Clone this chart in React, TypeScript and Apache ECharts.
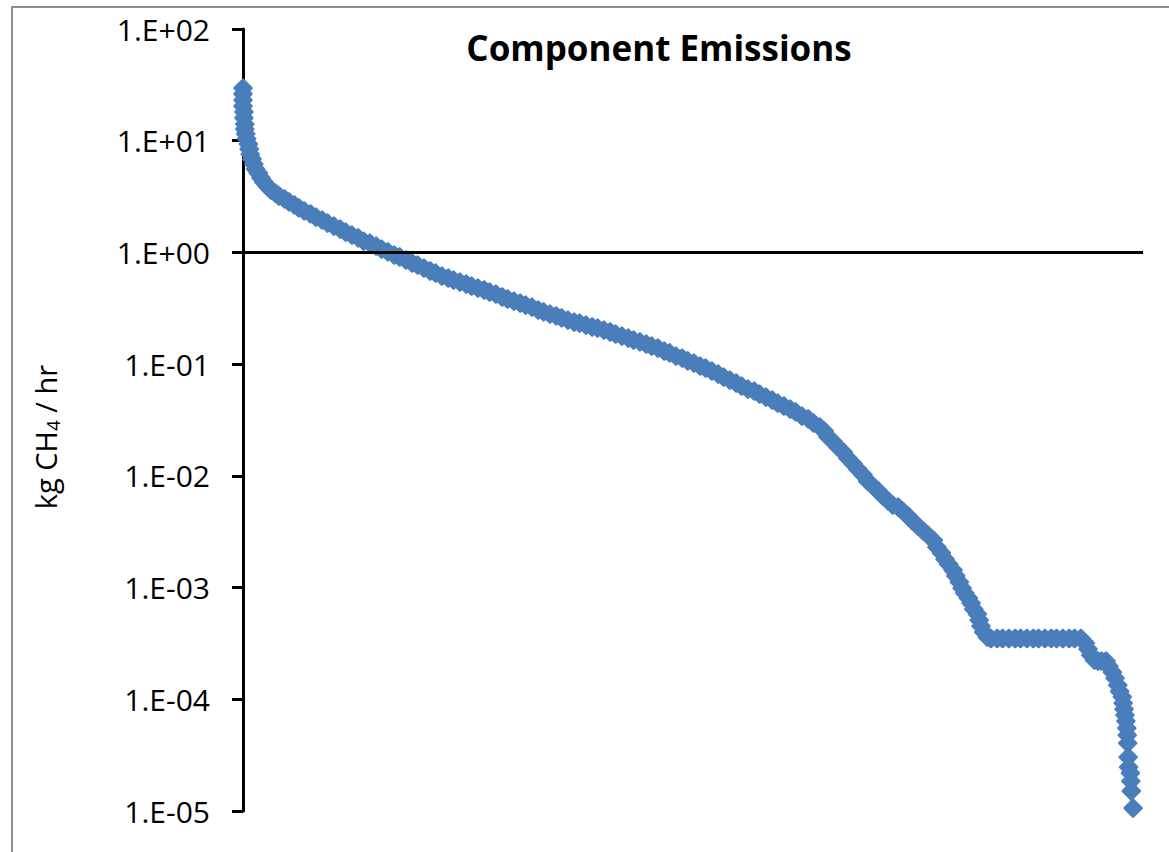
import React, { useEffect, useRef } from "react";
import * as echarts from "echarts";

// Components sorted from largest to smallest emitter: position along the
// ranking (percent of the horizontal axis) and the measured leak rate.
const componentRank: number[] = [
  0, 0, 0, 0, 0.1, 0.1, 0.2, 0.2, 0.3, 0.4, 0.6, 0.7, 0.8, 1.0, 1.2, 1.4, 1.7, 2.0, 2.3, 2.7,
  3.1, 3.6, 4.0, 4.6, 5.1, 5.7, 6.2, 6.8, 7.5, 8.1, 8.8, 9.4, 10.1, 10.8, 11.4, 12.1, 12.8, 13.4,
  14.1, 14.8, 15.4, 16.1, 16.8,
  17.4, 18.1, 18.8, 19.4, 20.1, 20.8, 21.4, 22.1, 22.8, 23.4, 24.1, 24.8, 25.4, 26.1, 26.8, 27.4,
  28.1, 28.8, 29.4, 30.1, 30.8, 31.4, 32.1, 32.8, 33.4, 34.1, 34.8, 35.4, 36.1, 36.8, 37.4, 38.1,
  38.8, 39.4, 40.1, 40.8, 41.4, 42.1, 42.8, 43.4, 44.1, 44.8, 45.4, 46.1, 46.8, 47.4, 48.1, 48.8,
  49.4, 50.1, 50.8, 51.4, 52.1, 52.8, 53.4, 54.1, 54.8, 55.4, 56.1, 56.8, 57.4, 58.1, 58.8, 59.4,
  60.1, 60.8, 61.4, 62.1, 62.8, 63.4, 64.1,
  64.6, 65.0, 65.6, 66.1, 66.7, 67.2, 67.8, 68.3, 68.9, 69.4, 70.0, 70.6, 71.1, 71.7, 72.2, 72.8,
  73.3, 73.9, 74.4, 75.0, 75.6, 76.1, 76.7, 77.1, 77.6, 78.0, 78.4, 78.9, 79.2, 79.6, 79.9, 80.2,
  80.6, 80.9, 81.2, 81.6, 81.8, 82.0, 82.3, 82.7,
  83.1, 83.8, 84.4, 85.1, 85.8, 86.4, 87.1, 87.8, 88.4, 89.1, 89.8, 90.4, 91.1, 91.8, 92.4, 93.1,
  93.6, 93.9, 94.2, 94.6, 95.0, 95.4, 95.9, 96.2, 96.6, 96.9, 97.2, 97.4, 97.7, 97.8, 97.9, 98.0,
  98.1, 98.2, 98.25, 98.3, 98.35, 98.4, 98.6, 98.65, 98.7, 98.9,
];

// kg CH4 / hr
const emissionRate: number[] = [
  29.6, 26.2, 23.1, 20.4, 18.1, 16.0, 14.1, 12.7, 11.5, 10.4, 9.34, 8.43, 7.6, 6.86, 6.18, 5.58,
  5.14, 4.64, 4.27, 3.93, 3.62, 3.4, 3.2, 3.01, 2.83, 2.66, 2.5, 2.35, 2.21, 2.07, 1.95, 1.83,
  1.72, 1.62, 1.52, 1.43, 1.35, 1.26, 1.21, 1.14, 1.07, 1.01, 0.948,
  0.91, 0.855, 0.804, 0.771, 0.725, 0.682, 0.654, 0.615, 0.59, 0.566,
  0.543, 0.521, 0.5, 0.48, 0.461, 0.442, 0.424, 0.399, 0.383, 0.367,
  0.352, 0.338, 0.324, 0.305, 0.293, 0.281, 0.27, 0.259, 0.248, 0.238,
  0.233, 0.224, 0.215, 0.21, 0.202, 0.194, 0.186, 0.178, 0.171, 0.164,
  0.158, 0.151, 0.145, 0.139, 0.131, 0.126, 0.118, 0.113, 0.107, 0.102,
  0.0962, 0.0923, 0.0867, 0.0815, 0.0766, 0.072, 0.0677, 0.0637, 0.0598, 0.0574,
  0.054, 0.0507, 0.0477, 0.0448, 0.0422, 0.0396, 0.0373, 0.0343, 0.0323, 0.0297,
  0.0273,
  0.0252, 0.0223, 0.0201, 0.0181, 0.0163, 0.0144, 0.0128, 0.0115, 0.0102, 0.00898,
  0.0081, 0.00731, 0.00659, 0.00595, 0.00548, 0.00525, 0.00484, 0.00437, 0.00394, 0.00355,
  0.0032, 0.00295, 0.00266, 0.0023, 0.00204, 0.0018, 0.00162, 0.00143, 0.00127, 0.00112,
  0.00099, 0.000893, 0.000805, 0.000726, 0.000642, 0.000579, 0.000512, 0.000452, 0.0004, 0.00036,
  0.00035, 0.00035, 0.00035, 0.00035, 0.00035, 0.00035, 0.00035, 0.00035,
  0.00035, 0.00035, 0.00035, 0.00035, 0.00035, 0.00035, 0.00035, 0.00035,
  0.000318, 0.000281, 0.000249, 0.000224, 0.00022, 0.00022, 0.00022, 0.000198, 0.000175, 0.000155,
  0.000134, 0.000118, 0.000105, 0.0000924, 0.0000817, 0.0000722, 0.0000638, 0.0000552, 0.0000478,
  0.0000405, 0.0000304, 0.0000247, 0.0000218, 0.0000185, 0.0000151, 0.0000106,
];

const yMin = 1e-5;
const yMax = 100;
const chartTitle = "Component Emissions";

const FONT = "'Open Sans', 'Liberation Sans', sans-serif";
const MARKER_BLUE = "#4a7ebb";

function sciLabel(v: number): string {
  const e = Math.round(Math.log10(v));
  return "1.E" + (e < 0 ? "-" : "+") + String(Math.abs(e)).padStart(2, "0");
}

export default function App() {
  const ref = useRef<HTMLDivElement>(null);

  useEffect(() => {
    if (!ref.current) return;
    const chart = echarts.init(ref.current, null, { renderer: "svg" });

    const points = emissionRate.map((v, i) => [componentRank[i], v]);

    chart.setOption({
      animation: false,
      backgroundColor: "#ffffff",
      grid: {
        left: 243,
        right: 26,
        top: 29,
        bottom: 41,
        containLabel: false,
        outerBoundsMode: "none",
      },
      xAxis: {
        type: "value",
        min: 0,
        max: 100,
        axisLine: { show: false },
        axisTick: { show: false },
        axisLabel: { show: false },
        splitLine: { show: false },
      },
      yAxis: {
        type: "log",
        logBase: 10,
        min: yMin,
        max: yMax,
        interval: 1,
        axisLine: { show: true, lineStyle: { color: "#000", width: 3 } },
        axisTick: { show: true, inside: false, length: 11, lineStyle: { color: "#000", width: 3 } },
        axisLabel: {
          formatter: sciLabel,
          margin: 33,
          color: "#000",
          fontFamily: FONT,
          fontSize: 30,
        },
        splitLine: { show: false },
        minorTick: { show: false },
      },
      graphic: [
        {
          type: "rect",
          shape: { x: 12, y: 7, width: 1300, height: 1000 },
          style: { fill: "none", stroke: "#8e8e8e", lineWidth: 2 },
          silent: true,
          z: -10,
        },
        {
          type: "text",
          x: 659,
          y: 47,
          style: {
            text: chartTitle,
            fontFamily: FONT,
            fontWeight: "bold",
            fontSize: 35,
            fill: "#000",
            align: "center",
            verticalAlign: "middle",
          },
        },
        {
          type: "text",
          x: 45,
          y: 437,
          rotation: Math.PI / 2,
          style: {
            text: "{a|kg CH}{s|4}{a| / hr}",
            align: "center",
            verticalAlign: "middle",
            rich: {
              a: { fontFamily: FONT, fontSize: 29, fill: "#000", lineHeight: 38, verticalAlign: "middle" },
              s: { fontFamily: FONT, fontSize: 19, fill: "#000", lineHeight: 38, verticalAlign: "bottom", padding: [0, 0, 2, 0] },
            },
          },
        },
      ],
      series: [
        {
          type: "scatter",
          data: points,
          symbol: "diamond",
          symbolSize: 17,
          itemStyle: {
            color: MARKER_BLUE,
            borderColor: MARKER_BLUE,
            borderWidth: 2.5,
            borderJoin: "round",
            opacity: 1,
          },
          z: 2,
        },
        {
          // horizontal axis crossing at 1 kg/hr, drawn over the markers
          type: "line",
          data: [],
          z: 5,
          markLine: {
            silent: true,
            symbol: "none",
            label: { show: false },
            lineStyle: { color: "#000", width: 3, type: "solid" },
            data: [{ yAxis: 1 }],
          },
        },
      ],
    });

    return () => chart.dispose();
  }, []);

  return (
    <div
      ref={ref}
      style={{ position: "fixed", left: 0, top: 0, width: 1169, height: 852, background: "#fff" }}
    />
  );
}
